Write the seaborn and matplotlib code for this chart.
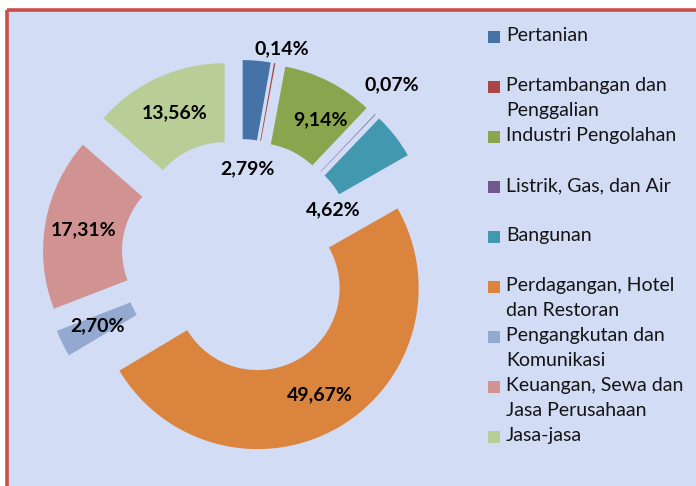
import numpy as np
import matplotlib
matplotlib.use("Agg")
import matplotlib.pyplot as plt
from matplotlib.patches import Rectangle
import seaborn as sns

# ---- data ----
categories = ["Pertanian", "Pertambangan dan\nPenggalian", "Industri Pengolahan",
              "Listrik, Gas, dan Air", "Bangunan", "Perdagangan, Hotel\ndan Restoran",
              "Pengangkutan dan\nKomunikasi", "Keuangan, Sewa dan\nJasa Perusahaan", "Jasa-jasa"]
shares = [2.79, 0.14, 9.14, 0.07, 4.62, 49.67, 2.70, 17.31, 13.56]
value_labels = ["2,79%", "0,14%", "9,14%", "0,07%", "4,62%", "49,67%", "2,70%", "17,31%", "13,56%"]
colors = ["#4572A7", "#AA4643", "#89A54E", "#71588F", "#4198AF",
          "#DB843D", "#93A9CF", "#D19392", "#B9CD96"]

# label placement (distance from the exploded wedge centre, clockwise angular offset in degrees)
label_rho = [53, 177, 123, 194, 70, 123, 122, 122, 122]
label_dtheta = [0, 1.5, 4.5, -2.4, 17, 0, 0, 0, 0]

sns.set_theme(style="white")
plt.rcParams["font.family"] = ["Lato", "DejaVu Sans"]

W, H = 696, 486
fig = plt.figure(figsize=(W / 100, H / 100), dpi=100)
fig.patch.set_facecolor("white")
ax = fig.add_axes([0, 0, 1, 1])
ax.set_xlim(0, W)
ax.set_ylim(H, 0)

# background panel with red border (left and top)
ax.add_patch(Rectangle((6.5, 10.5), W, H, facecolor="#d2dcf5", edgecolor="none", zorder=0))
ax.plot([6.5, 6.5], [H + 5, 10.5], color="#c9504a", lw=2.6, solid_capstyle="butt", zorder=1)
ax.plot([6.5, W + 5], [10.5, 10.5], color="#c9504a", lw=2.6, solid_capstyle="butt", zorder=1)

cx, cy = 239.5, 257
R, ring, expl = 161, 79, 36

# y axis points down, so counterclock=True in data space is clockwise on screen
wedges, _ = ax.pie(shares, colors=colors, radius=R, center=(cx, cy),
                   startangle=-90, counterclock=True, explode=[expl] * len(shares),
                   wedgeprops=dict(width=ring, linewidth=0), frame=True)
ax.set_xlim(0, W)
ax.set_ylim(H, 0)
ax.set_aspect("equal", adjustable="box")
ax.axis("off")

for w, lab, rho, dth in zip(wedges, value_labels, label_rho, label_dtheta):
    th = np.deg2rad((w.theta1 + w.theta2) / 2 + dth)
    x0, y0 = w.center
    ax.text(x0 + rho * np.cos(th), y0 + rho * np.sin(th), lab,
            ha="center", va="center", fontsize=14, fontweight="bold", color="black", zorder=5)

# legend
lx, ly0, step = 488, 37, 50
for i, (name, col) in enumerate(zip(categories, colors)):
    y = ly0 + i * step
    ax.add_patch(Rectangle((lx, y - 6), 12, 12, facecolor=col, edgecolor="none", zorder=5))
    ax.text(lx + 18, y - 10, name, ha="left", va="top", fontsize=14, color="#141414",
            linespacing=1.55, zorder=5)

fig.savefig("out.png", dpi=100, facecolor="white")
